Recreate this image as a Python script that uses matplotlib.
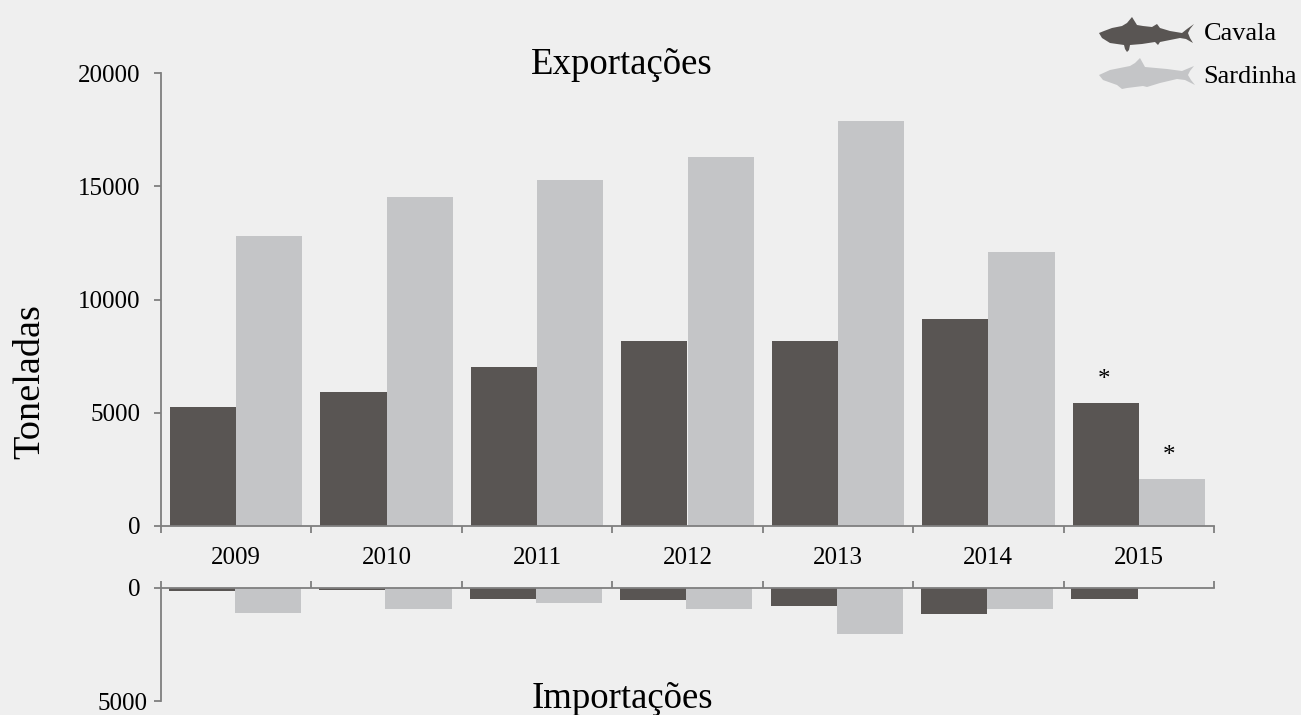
import numpy as np
import matplotlib
matplotlib.use("Agg")
import matplotlib.pyplot as plt
from matplotlib.patches import Polygon

years = ["2009", "2010", "2011", "2012", "2013", "2014", "2015"]
exp_cavala = [5270, 5920, 7000, 8170, 8170, 9120, 5430]
exp_sardinha = [12800, 14530, 15280, 16310, 17880, 12080, 2080]
imp_cavala = [150, 100, 500, 550, 800, 1150, 500]
imp_sardinha = [1100, 950, 650, 950, 2050, 950, 0]

# legend fish outlines, in pixels of the 1301x715 figure
fish_cavala = [(1099, 33), (1104, 31), (1112, 28), (1122, 26), (1127, 23), (1132, 17), (1137, 25),
               (1143, 26), (1152, 27), (1157, 24), (1160, 28), (1170, 31), (1182, 33), (1187, 29),
               (1194, 24), (1190, 29), (1188, 33), (1190, 38), (1193, 43), (1186, 39), (1180, 38),
               (1170, 40), (1160, 42), (1158, 45), (1155, 42), (1142, 44), (1130, 45), (1129, 50),
               (1127, 52), (1125, 49), (1124, 45), (1110, 43), (1102, 38)]
fish_sardinha = [(1099, 75), (1110, 70), (1120, 68), (1130, 66), (1135, 63), (1140, 58), (1145, 67),
                 (1156, 68), (1167, 69), (1182, 71), (1194, 66), (1190, 71), (1188, 75), (1191, 80),
                 (1195, 85), (1185, 80), (1177, 79), (1160, 83), (1147, 87), (1143, 86), (1127, 88),
                 (1122, 89), (1117, 85), (1103, 80)]

W, H = 1301, 715
BG = "#efefef"
DARK = "#595553"
LIGHT = "#c4c5c7"
AXIS = "#7f7f7f"
SERIF = ["Liberation Serif", "DejaVu Serif"]

plt.rcParams["font.family"] = SERIF

fig = plt.figure(figsize=(W / 100, H / 100), dpi=100, facecolor=BG)


def px_axes(x0, x1, y_top, y_bottom):
    return fig.add_axes([x0 / W, 1 - y_bottom / H, (x1 - x0) / W, (y_bottom - y_top) / H], facecolor="none")


def px_text(x, y, s, **kw):
    fig.text(x / W, 1 - y / H, s, va="center", **kw)


x = np.arange(len(years))
bar_w = 0.44

ax = px_axes(161, 1214, 73, 526)
ax.bar(x - bar_w / 2, exp_cavala, bar_w, color=DARK)
ax.bar(x + bar_w / 2, exp_sardinha, bar_w, color=LIGHT)
ax.set_ylim(0, 20000)
ax.set_yticks([0, 5000, 10000, 15000, 20000])

ax2 = px_axes(161, 1214, 588, 701)
ax2.bar(x - bar_w / 2 - 0.008, imp_cavala, bar_w, color=DARK)
ax2.bar(x + bar_w / 2 - 0.008, imp_sardinha, bar_w, color=LIGHT)
ax2.set_ylim(5000, 0)
ax2.set_yticks([0, 5000])

for a in (ax, ax2):
    a.set_xlim(-0.5, len(years) - 0.5)
    a.set_xticks(np.arange(len(years) + 1) - 0.5)
    a.set_xticklabels([])
    a.spines["top"].set_visible(False)
    a.spines["right"].set_visible(False)
    for s in ("left", "bottom", "top"):
        a.spines[s].set_color(AXIS)
        a.spines[s].set_linewidth(1.3)
    a.tick_params(axis="y", length=5, width=1.3, color=AXIS, labelsize=18, pad=10, labelcolor="black")
    a.set_axisbelow(False)

# the lower 5000 label sits closer to the axis than the others
ax2.yaxis.get_major_ticks()[1].set_pad(5)

ax.tick_params(axis="x", direction="out", length=5, width=1.3, color=AXIS)

ax2.spines["bottom"].set_visible(False)
ax2.spines["top"].set_visible(True)
ax2.xaxis.tick_top()
ax2.tick_params(axis="x", direction="out", length=5, width=1.3, color=AXIS, labeltop=False)

# year labels sit centred under the top panel
ax.set_xticks(x, minor=True)
ax.set_xticklabels(years, minor=True, fontsize=18)
ax.tick_params(axis="x", which="minor", length=0, pad=15)

# marks for the partial 2015 values
ax.text(x[6] - 0.23, exp_cavala[6] + 1000, "*", ha="center", va="center", fontsize=18)
ax.text(x[6] + 0.2, exp_sardinha[6] + 1000, "*", ha="center", va="center", fontsize=18)

px_text(622, 65, "Exportações", ha="center", fontsize=26.5)
px_text(622, 699, "Importações", ha="center", fontsize=26.5)
px_text(30, 382, "Toneladas", ha="center", rotation=90, fontsize=27.5)
px_text(1204, 34, "Cavala", ha="left", fontsize=19)
px_text(1203, 77, "Sardinha", ha="left", fontsize=19)

for pts, col in ((fish_cavala, DARK), (fish_sardinha, LIGHT)):
    fig.add_artist(Polygon([(px / W, 1 - py / H) for px, py in pts], closed=True, facecolor=col,
                           edgecolor="none", transform=fig.transFigure))

fig.savefig("out.png", dpi=100, facecolor=BG)
